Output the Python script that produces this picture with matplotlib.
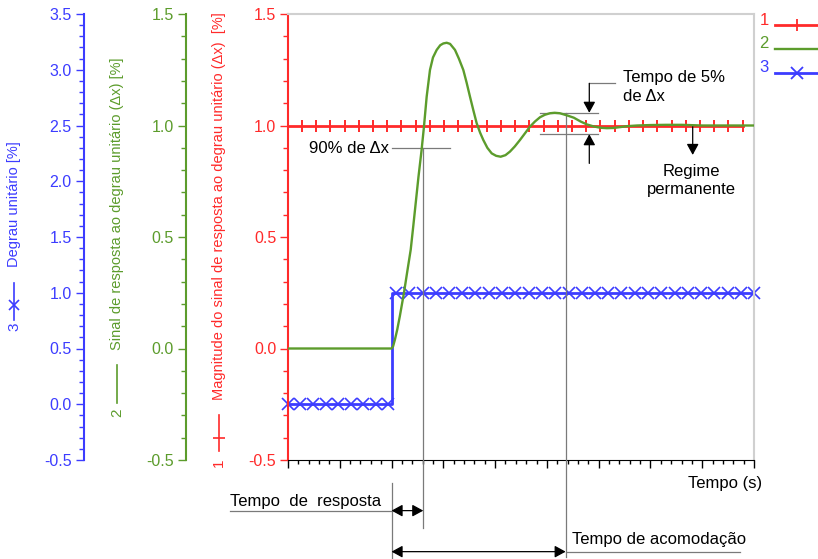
import numpy as np
import matplotlib.pyplot as plt
from matplotlib.lines import Line2D
from matplotlib.ticker import MultipleLocator, FormatStrFormatter

plt.rcParams['font.family'] = ['Liberation Sans', 'DejaVu Sans']
plt.rcParams['axes.unicode_minus'] = False

RED = '#ff2a2a'
GREEN = '#5c9c2c'
BLUE = '#3c3cff'
GRAY = '#7a7a7a'
W, H = 818, 559

# 1: magnitude of response (reference level 1.0), red axis
t_ref = [0.0, 8.78]
y_ref = [1.0, 1.0]
t_ref_marks = [0.27, 0.55, 0.82, 1.10, 1.37, 1.64, 1.92, 2.19, 2.47, 2.74, 3.02,
               3.29, 3.56, 3.84, 4.11, 4.39, 4.66, 4.94, 5.21, 5.48, 5.76, 6.03,
               6.31, 6.58, 6.86, 7.13, 7.41, 7.68, 7.95, 8.23, 8.50, 8.78]

# 2: response signal, green axis
t_sig = [0.0, 2.0, 2.03, 2.065, 2.11, 2.16, 2.24, 2.30, 2.37, 2.42, 2.47, 2.52,
         2.58, 2.626, 2.678, 2.742, 2.80, 2.872, 2.94, 3.0, 3.065, 3.13, 3.225,
         3.30, 3.386, 3.45, 3.515, 3.58, 3.644, 3.71, 3.772, 3.85, 3.934, 4.02,
         4.107, 4.20, 4.287, 4.38, 4.48, 4.58, 4.674, 4.77, 4.867, 4.96, 5.06,
         5.15, 5.25, 5.38, 5.52, 5.65, 5.77, 5.90, 6.03, 6.16, 6.29, 6.42, 6.55,
         6.74, 7.0, 7.3, 7.6, 8.0, 9.0]
y_sig = [0.0, 0.0, 0.01, 0.04, 0.085, 0.145, 0.25, 0.34, 0.443, 0.55, 0.66, 0.77,
         0.89, 0.995, 1.129, 1.249, 1.305, 1.339, 1.36, 1.368, 1.371, 1.366, 1.339,
         1.30, 1.249, 1.192, 1.129, 1.068, 1.01, 0.968, 0.935, 0.9, 0.875, 0.864,
         0.86, 0.867, 0.883, 0.906, 0.935, 0.966, 0.995, 1.018, 1.037, 1.048, 1.055,
         1.057, 1.055, 1.046, 1.035, 1.018, 1.005, 0.996, 0.99, 0.988, 0.989, 0.993, 0.997,
         1.0, 1.002, 1.003, 1.003, 1.0, 1.0]

# 3: unit step, blue axis
t_step = [0.0, 2.0, 2.0, 9.0]
y_step = [0.0, 0.0, 1.0, 1.0]
t_step_lo = [0.0, 0.24, 0.48, 0.73, 0.97, 1.21, 1.45, 1.69, 1.94]
t_step_hi = [2.09, 2.34, 2.60, 2.85, 3.11, 3.37, 3.62, 3.88, 4.13, 4.39, 4.65,
             4.90, 5.16, 5.42, 5.67, 5.93, 6.18, 6.44, 6.70, 6.95, 7.21, 7.47,
             7.72, 7.98, 8.23, 8.49, 8.74, 9.00]

# annotation anchors
t_resp_time = 2.613
t_settle_time = 5.363
level_90 = 0.90
band_hi, band_lo = 1.057, 0.961


def fx(x):
    return x / W


def fy(y):
    return 1 - y / H


fig = plt.figure(figsize=(W / 100, H / 100), dpi=100)
ax = fig.add_axes([fx(288), fy(460), 466 / W, 446 / H])
ax_g = ax.twinx()
ax_b = ax.twinx()

ax_b.set_zorder(1)
ax.set_zorder(2)
ax_g.set_zorder(3)
ax_b.patch.set_visible(True)
ax_b.patch.set_facecolor('white')
ax.patch.set_visible(False)
ax_g.patch.set_visible(False)

ax.set_xlim(0, 9)
ax.set_ylim(-0.5, 1.5)
ax_g.set_ylim(-0.5, 1.5)
ax_b.set_ylim(-0.5, 3.5)

for a, c, off in [(ax, RED, 0), (ax_g, GREEN, -0.2195), (ax_b, BLUE, -0.4388)]:
    a.yaxis.set_ticks_position('left')
    a.yaxis.set_major_locator(MultipleLocator(0.5))
    a.yaxis.set_minor_locator(MultipleLocator(0.1))
    a.yaxis.set_major_formatter(FormatStrFormatter('%.1f'))
    a.tick_params(axis='y', which='both', direction='out', colors=c,
                  labelsize=11.5, pad=2.5, width=1)
    a.tick_params(axis='y', which='major', length=6)
    a.tick_params(axis='y', which='minor', length=3.5)
    a.spines['left'].set_visible(True)
    a.spines['left'].set_color(c)
    a.spines['left'].set_linewidth(1.5)
    if off:
        a.spines['left'].set_position(('axes', off))
        for s in ['top', 'right', 'bottom']:
            a.spines[s].set_visible(False)

ax.spines['top'].set_color('#d0d0d0')
ax.spines['right'].set_color('#d0d0d0')
ax.spines['top'].set_linewidth(1.5)
ax.spines['right'].set_linewidth(1.5)
ax.spines['bottom'].set_color('black')
ax.xaxis.set_major_locator(MultipleLocator(1))
ax.xaxis.set_minor_locator(MultipleLocator(0.2))
ax.tick_params(axis='x', which='both', direction='out', labelbottom=False, width=1)
ax.tick_params(axis='x', which='major', length=6)
ax.tick_params(axis='x', which='minor', length=3)

# data
ax.plot(t_ref, y_ref, color=RED, lw=2)
ax.plot(t_ref_marks, [1.0] * len(t_ref_marks), ls='none', marker='|', ms=9,
        mew=1.4, color=RED)
ax_g.plot(t_sig, y_sig, color=GREEN, lw=1.7)
ax_b.plot(t_step, y_step, color=BLUE, lw=2)
ax_b.plot(t_step_lo, [0.0] * len(t_step_lo), ls='none', marker='x', ms=8.5,
          mew=1.2, color=BLUE, clip_on=False)
ax_b.plot(t_step_hi, [1.0] * len(t_step_hi), ls='none', marker='x', ms=8.5,
          mew=1.2, color=BLUE, clip_on=False)

# annotations
ln = dict(color=GRAY, lw=0.9, clip_on=False, zorder=5)
ax.plot([2.0, 3.129], [level_90, level_90], **ln)
ax.plot([t_resp_time, t_resp_time], [level_90, -0.806], **ln)
ax.plot([4.867, 5.993], [band_hi, band_hi], **ln)
ax.plot([4.867, 5.993], [band_lo, band_lo], **ln)
ax.plot([t_settle_time, t_settle_time], [band_hi, -0.934], **ln)
ax.plot([2.0, 2.0], [-0.604, -0.944], **ln)
ax.plot([-1.12, 2.0], [-0.727, -0.727], **ln)
ax.plot([t_settle_time, 8.729], [-0.911, -0.911], **ln)
ax.plot([5.819, 6.315], [1.189, 1.189], **ln)

arr = dict(color='black', lw=0.9, shrinkA=0, shrinkB=0, mutation_scale=12)
head = 'head_length=0.55,head_width=0.3'


def arrow(xy, xytext, style='-|>'):
    ax.annotate('', xy=xy, xytext=xytext, annotation_clip=False, zorder=6,
                arrowprops=dict(arrowstyle=style + ',' + head, **arr))


arrow((5.819, band_hi), (5.819, 1.189))
arrow((5.819, band_lo), (5.819, 0.830))
arrow((7.816, 0.868), (7.816, 1.0))
arrow((t_resp_time, -0.727), (2.0, -0.727), '<|-|>')
arrow((t_settle_time, -0.911), (2.0, -0.911), '<|-|>')

txt = dict(fontsize=12, color='black', va='baseline', zorder=7)
ax.text(1.951, 0.878, '90% de \u0394x', ha='right', **txt)
ax.text(6.47, 1.196, 'Tempo de 5%', ha='left', **txt)
ax.text(6.47, 1.111, 'de \u0394x', ha='left', **txt)
ax.text(7.796, 0.774, 'Regime', ha='center', **txt)
ax.text(7.796, 0.693, 'permanente', ha='center', **txt)
ax.text(9.148, -0.624, 'Tempo (s)', ha='right', clip_on=False, **txt)
ax.text(-1.12, -0.706, 'Tempo  de  resposta', ha='left', clip_on=False, **txt)
ax.text(5.479, -0.877, 'Tempo de acomoda\u00e7\u00e3o', ha='left', clip_on=False, **txt)

# legend on the right
for num, c, yb, yl, mk in [('1', RED, 25, 25, '|'), ('2', GREEN, 48.3, 49.3, None),
                           ('3', BLUE, 71.7, 72.7, 'x')]:
    fig.text(fx(759.3), fy(yb), num, color=c, fontsize=12, va='baseline', ha='left')
    fig.add_artist(Line2D([fx(775), fx(818)], [fy(yl), fy(yl)],
                          transform=fig.transFigure, color=c,
                          lw=2 if mk else 1.7))
    if mk:
        fig.add_artist(Line2D([fx(796.7)], [fy(yl)], transform=fig.transFigure,
                              ls='none', marker=mk, ms=9 if mk == '|' else 8.5,
                              mew=1.3, color=c))

# rotated axis titles with line samples
titles = [
    (14, 327, 320, 283, 305, '3', 'x', BLUE, 267, 'Degrau unit\u00e1rio [%]'),
    (117, 413, 403, 365, None, '2', None, GREEN, 350,
     'Sinal de resposta ao degrau unit\u00e1rio (\u0394x) [%]'),
    (219, 463, 451, 415, 438, '1', '_', RED, 400,
     'Magnitude do sinal de resposta ao degrau unit\u00e1rio (\u0394x)  [%]'),
]
for x, ynum, y1, y2, ym, num, mk, c, ytxt, label in titles:
    fig.text(fx(x), fy(ynum), num, rotation=90, color=c, fontsize=11,
             ha='center', va='center')
    fig.add_artist(Line2D([fx(x), fx(x)], [fy(y1), fy(y2)],
                          transform=fig.transFigure, color=c, lw=1.2))
    if mk:
        fig.add_artist(Line2D([fx(x)], [fy(ym)], transform=fig.transFigure,
                              ls='none', marker=mk, ms=7 if mk == 'x' else 9,
                              mew=1.2, color=c))
    fig.text(fx(x), fy(ytxt), label, rotation=90, color=c, fontsize=10.5,
             ha='center', va='bottom')

fig.savefig('out.png', dpi=100)
